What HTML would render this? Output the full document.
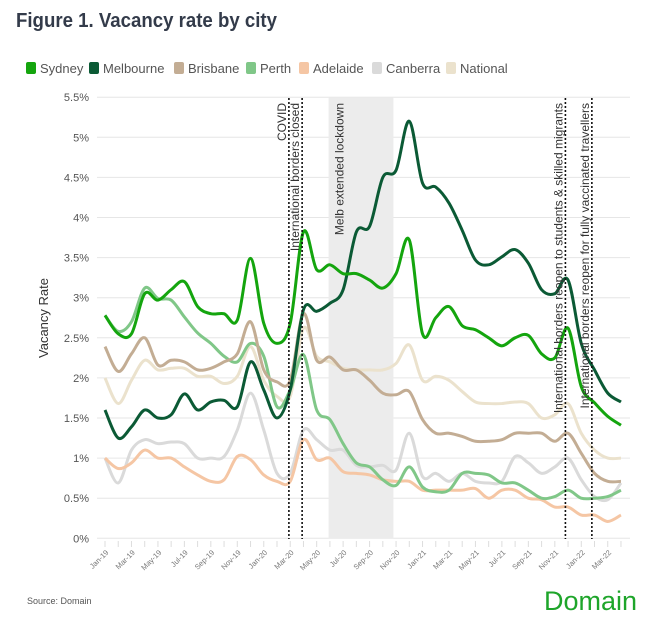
<!DOCTYPE html>
<html><head><meta charset="utf-8">
<style>
body{margin:0;background:#fff;font-family:"Liberation Sans",sans-serif;}
#wrap{position:relative;width:645px;height:626px;overflow:hidden;}
</style></head>
<body>
<div id="wrap">
<svg id="chart" width="645" height="626" xmlns="http://www.w3.org/2000/svg">
<text x="16" y="27" font-size="20" font-weight="bold" fill="#333b4a" textLength="261" lengthAdjust="spacingAndGlyphs">Figure 1. Vacancy rate by city</text>
<g id="legend"></g>
<g id="grid"></g>
<rect id="shade" fill="#ececec"></rect>
<g id="yaxis"></g>
<g id="xaxis"></g>
<g id="series"></g>
<g id="events"></g>
<text transform="translate(48,318) rotate(-90)" text-anchor="middle" font-size="13" fill="#333">Vacancy Rate</text>
<text x="27" y="604" font-size="9" fill="#555">Source: Domain</text>
<text x="544" y="610" font-size="27" fill="#1ea52a">Domain</text>
</svg>
</div>
<script>
const months = ["Jan-19","Feb-19","Mar-19","Apr-19","May-19","Jun-19","Jul-19","Aug-19","Sep-19","Oct-19","Nov-19","Dec-19","Jan-20","Feb-20","Mar-20","Apr-20","May-20","Jun-20","Jul-20","Aug-20","Sep-20","Oct-20","Nov-20","Dec-20","Jan-21","Feb-21","Mar-21","Apr-21","May-21","Jun-21","Jul-21","Aug-21","Sep-21","Oct-21","Nov-21","Dec-21","Jan-22","Feb-22","Mar-22","Apr-22"];
const seriesNames = ["National","Canberra","Adelaide","Perth","Brisbane","Melbourne","Sydney"];
const sydney = [2.78,2.55,2.55,3.05,2.97,3.1,3.2,2.89,2.8,2.8,2.72,3.49,2.68,2.43,2.68,3.82,3.35,3.41,3.3,3.3,3.22,3.12,3.3,3.72,2.55,2.75,2.89,2.65,2.6,2.5,2.4,2.5,2.53,2.3,2.25,2.62,1.89,1.69,1.52,1.41];
const melbourne = [1.6,1.25,1.39,1.6,1.5,1.54,1.8,1.6,1.7,1.72,1.64,2.2,1.85,1.5,1.85,2.85,2.83,2.93,3.1,3.82,3.89,4.5,4.59,5.2,4.43,4.38,4.18,3.84,3.47,3.41,3.51,3.6,3.43,3.1,3.05,3.22,2.43,2.1,1.81,1.7];
const brisbane = [2.39,2.08,2.3,2.5,2.16,2.22,2.2,2.1,2.12,2.2,2.3,2.7,2.1,1.95,1.97,2.8,2.22,2.26,2.1,2.1,1.97,1.81,1.79,1.83,1.48,1.31,1.31,1.27,1.21,1.21,1.23,1.31,1.31,1.31,1.21,1.31,1.06,0.81,0.71,0.71];
const perth = [2.78,2.58,2.7,3.12,2.99,2.97,2.76,2.56,2.43,2.27,2.2,2.43,2.27,1.64,1.85,2.29,1.6,1.48,1.18,0.94,0.89,0.73,0.66,0.89,0.64,0.58,0.6,0.81,0.81,0.79,0.69,0.69,0.6,0.5,0.52,0.6,0.5,0.5,0.52,0.6];
const adelaide = [1.0,0.87,0.94,1.1,1.0,1.0,0.89,0.79,0.71,0.73,1.02,0.98,0.79,0.71,0.71,1.23,0.98,1.0,0.83,0.81,0.79,0.73,0.71,0.71,0.6,0.6,0.6,0.6,0.62,0.5,0.6,0.6,0.5,0.48,0.39,0.39,0.29,0.29,0.21,0.29];
const canberra = [1.0,0.69,1.1,1.23,1.18,1.2,1.18,1.0,1.0,1.02,1.35,1.81,1.35,0.81,0.81,1.35,1.23,1.1,1.1,0.91,0.89,0.91,0.85,1.31,0.77,0.81,0.71,0.81,0.71,0.69,0.71,1.02,0.94,0.81,0.89,1.0,0.73,0.52,0.48,0.69];
const national = [2.0,1.68,1.97,2.22,2.1,2.12,2.12,2.02,2.02,1.93,2.02,2.39,1.97,1.77,1.77,2.62,2.27,2.2,2.12,2.1,2.1,2.1,2.18,2.41,1.97,2.02,1.97,1.83,1.7,1.68,1.68,1.7,1.68,1.5,1.54,1.68,1.31,1.1,1.0,1.0];
const yTicks = [0,0.5,1,1.5,2,2.5,3,3.5,4,4.5,5,5.5];
const yTickLabels = ["0%","0.5%","1%","1.5%","2%","2.5%","3%","3.5%","4%","4.5%","5%","5.5%"];
const eventMonths = [13.9,14.9,34.8,36.8];
const eventLabels = ["COVID","International borders closed","International borders reopen to students & skilled migrants","International borders reopen for fully vaccinated travellers"];
const shadeRange = [16.9,21.8];

const NS="http://www.w3.org/2000/svg";
const X0=105, DX=13.23, Y0=538.3, DY=80.2;
const x = i => X0 + DX*i;
const y = v => Y0 - DY*v;
function mk(tag, parent, attrs){const e=document.createElementNS(NS,tag);for(const k in attrs)e.setAttribute(k,attrs[k]);parent.appendChild(e);return e;}

const colors = {Sydney:"#14a50e",Melbourne:"#0b5a35",Brisbane:"#c3ad94",Perth:"#80c788",Adelaide:"#f5c6a4",Canberra:"#dadada",National:"#ebe2cd"};
const dataMap = {Sydney:sydney,Melbourne:melbourne,Brisbane:brisbane,Perth:perth,Adelaide:adelaide,Canberra:canberra,National:national};

const legendOrder=["Sydney","Melbourne","Brisbane","Perth","Adelaide","Canberra","National"];
const legendX=[26,89,174,246,299,372,446];
const lg=document.getElementById('legend');
legendOrder.forEach((n,k)=>{
  const g=mk('g',lg,{});
  
  
  mk('rect',g,{x:legendX[k],y:62,width:10,height:12,rx:2,fill:colors[n]});
  const t=mk('text',g,{x:legendX[k]+14,y:73,'font-size':13,fill:'#555'});t.textContent=n;
});

const grid=document.getElementById('grid'), ya=document.getElementById('yaxis');
yTicks.forEach((v,k)=>{
  const l=mk('line',grid,{x1:97,x2:630,y1:y(v),y2:y(v),stroke:'#e6e6e6','stroke-width':1});
  
  
  const t=mk('text',ya,{x:89,y:y(v)+4,'text-anchor':'end','font-size':11,fill:'#555'});
  
  
  t.textContent=yTickLabels[k];
});

const sh=document.getElementById('shade');
sh.setAttribute('x',x(shadeRange[0]));sh.setAttribute('width',x(shadeRange[1])-x(shadeRange[0]));
sh.setAttribute('y',y(5.5));sh.setAttribute('height',y(0)-y(5.5));
const lt=mk('text',document.getElementById('events'),{transform:`translate(${x(shadeRange[0])+15},103) rotate(-90)`,'text-anchor':'end','font-size':12,fill:'#333'});


lt.textContent="Melb extended lockdown";

const xa=document.getElementById('xaxis');
months.forEach((m,i)=>{
  const tk=mk('line',xa,{x1:x(i),x2:x(i),y1:541,y2:547,stroke:'#ddd'});
  
  
  if(i%2===0){
    const t=mk('text',xa,{transform:`translate(${x(i)+4},553) rotate(-45)`,'text-anchor':'end','font-size':7.5,fill:'#777'});
    
    
    t.textContent=m;
  }
});

function path(arr){
  const p=arr.map((v,i)=>[x(i),y(v)]);
  let d=`M${p[0][0]},${p[0][1]}`;
  for(let i=0;i<p.length-1;i++){
    const p0=p[i-1]||p[i],p1=p[i],p2=p[i+1],p3=p[i+2]||p2;
    const c1=[p1[0]+(p2[0]-p0[0])/6,p1[1]+(p2[1]-p0[1])/6];
    const c2=[p2[0]-(p3[0]-p1[0])/6,p2[1]-(p3[1]-p1[1])/6];
    d+=` C${c1[0]},${c1[1]} ${c2[0]},${c2[1]} ${p2[0]},${p2[1]}`;
  }
  return d;
}
const sg=document.getElementById('series');
seriesNames.forEach(n=>{
  const pl=mk('path',sg,{d:path(dataMap[n]),fill:'none',stroke:colors[n],'stroke-width':3,'stroke-linejoin':'round'});
  
  
});

const ev=document.getElementById('events');
eventMonths.forEach((m,k)=>{
  const l=mk('line',ev,{x1:x(m),x2:x(m),y1:98,y2:539,stroke:'#111','stroke-width':1.6,'stroke-dasharray':'2,2'});
  
  
  const t=mk('text',ev,{transform:`translate(${x(m)-3},103) rotate(-90)`,'text-anchor':'end','font-size':12,fill:'#333'});
  
  
  t.textContent=eventLabels[k];
});
</script>
</body></html>
